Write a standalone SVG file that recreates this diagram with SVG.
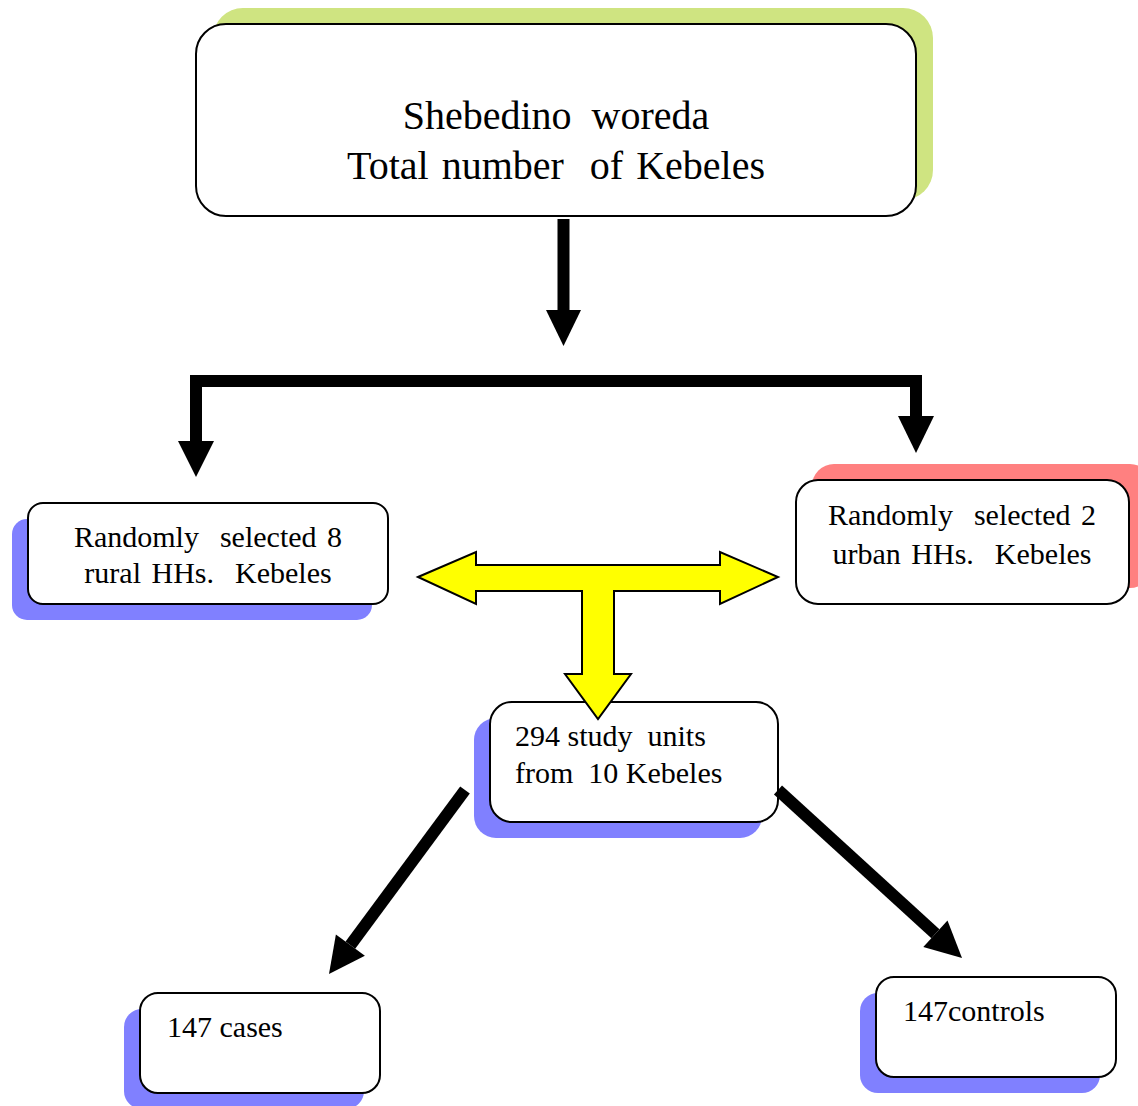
<svg xmlns="http://www.w3.org/2000/svg" width="1138" height="1106" viewBox="0 0 1138 1106">
<style>
.box{fill:#fff;stroke:#000;stroke-width:2}
.sh-blue{fill:#8080ff}
.sh-red{fill:#ff8080}
.sh-green{fill:#cfe481}
.t{font-family:"Liberation Serif","Tinos","DejaVu Serif",serif;fill:#000}
.big{font-size:40px}
.med{font-size:30px}
.ws{word-spacing:3px}
.shaft{stroke:#000;stroke-width:12;fill:none}
.head{fill:#000}
.yel{fill:#ffff00;stroke:#000;stroke-width:2;stroke-linejoin:miter}
</style>
<rect width="1138" height="1106" fill="#fff"/>
<g id="node-woreda">
<rect class="sh-green" x="213" y="8" width="720" height="192" rx="30"/>
<rect class="box" x="196" y="24" width="720" height="192" rx="30"/>
<text class="t big" font-family="Liberation Serif, serif" x="556" y="129" text-anchor="middle" xml:space="preserve">Shebedino  woreda</text>
<text class="t big ws" font-family="Liberation Serif, serif" x="556" y="179" text-anchor="middle" xml:space="preserve">Total number  of Kebeles</text>
</g>
<g id="node-rural">
<rect class="sh-blue" x="12" y="519" width="360" height="101" rx="15"/>
<rect class="box" x="28" y="503" width="360" height="101" rx="15"/>
<text class="t med ws" font-family="Liberation Serif, serif" x="208" y="547" text-anchor="middle" xml:space="preserve">Randomly  selected 8</text>
<text class="t med ws" font-family="Liberation Serif, serif" x="208" y="583" text-anchor="middle" xml:space="preserve">rural HHs.  Kebeles</text>
</g>
<g id="node-urban">
<rect class="sh-red" x="812" y="464" width="340" height="124" rx="22"/>
<rect class="box" x="796" y="480" width="333" height="124" rx="22"/>
<text class="t med ws" font-family="Liberation Serif, serif" x="962" y="525" text-anchor="middle" xml:space="preserve">Randomly  selected 2</text>
<text class="t med ws" font-family="Liberation Serif, serif" x="962" y="564" text-anchor="middle" xml:space="preserve">urban HHs.  Kebeles</text>
</g>
<g id="node-study">
<rect class="sh-blue" x="474" y="718" width="288" height="120" rx="22"/>
<rect class="box" x="490" y="702" width="288" height="120" rx="22"/>
<text class="t med" font-family="Liberation Serif, serif" x="515" y="746" xml:space="preserve">294 study  units</text>
<text class="t med" font-family="Liberation Serif, serif" x="515" y="783" xml:space="preserve">from  10 Kebeles</text>
</g>
<g id="node-cases">
<rect class="sh-blue" x="124" y="1009" width="240" height="100" rx="18"/>
<rect class="box" x="140" y="993" width="240" height="100" rx="18"/>
<text class="t med" font-family="Liberation Serif, serif" x="167" y="1037">147 cases</text>
</g>
<g id="node-controls">
<rect class="sh-blue" x="860" y="993" width="240" height="100" rx="18"/>
<rect class="box" x="876" y="977" width="240" height="100" rx="18"/>
<text class="t med" font-family="Liberation Serif, serif" x="903" y="1021">147controls</text>
</g>
<g id="connectors">
<line class="shaft" x1="563.5" y1="219" x2="563.5" y2="311"/>
<polygon class="head" points="546,310 581,310 563.5,346"/>
<path class="shaft" d="M196,442 V381 H916 V417" stroke-linejoin="miter"/>
<polygon class="head" points="178,441 214,441 196,477"/>
<polygon class="head" points="898,416 934,416 916,453"/>
<polygon class="yel" points="418,577 476,552 476,565 720,565 720,552 778,577 720,604 720,591 614,591 614,674 631,674 598,719 565,674 582,674 582,591 476,591 476,604"/>
<line class="shaft" x1="465" y1="790" x2="350.4" y2="945.1"/>
<polygon class="head" points="329,974 364.9,955.8 335.9,934.4"/>
<line class="shaft" x1="778" y1="790" x2="935.4" y2="933.7"/>
<polygon class="head" points="962,958 923.3,947 947.5,920.4"/>
</g>
</svg>
